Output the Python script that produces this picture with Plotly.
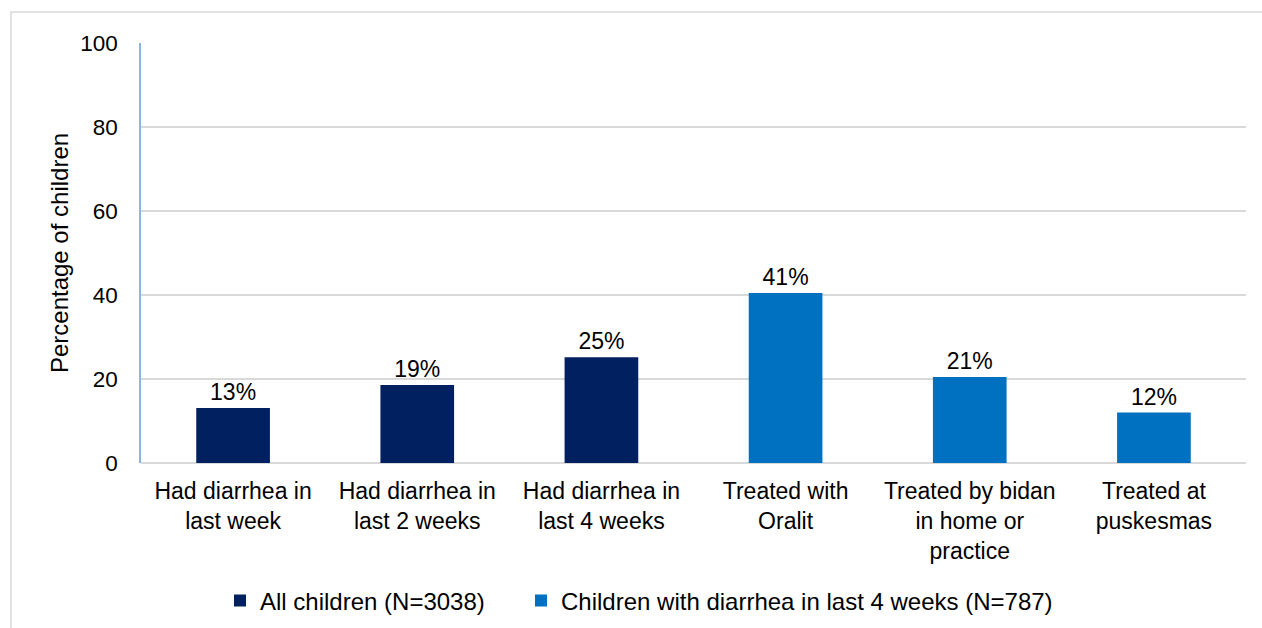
import plotly.graph_objects as go

# Survey results: share of children with diarrhea and how they were treated
all_children_cats = [
    "Had diarrhea in<br>last week",
    "Had diarrhea in<br>last 2 weeks",
    "Had diarrhea in<br>last 4 weeks",
]
all_children_vals = [13.1, 18.6, 25.2]

diarrhea_cats = [
    "Treated with<br>Oralit",
    "Treated by bidan<br>in home or<br>practice",
    "Treated at<br>puskesmas",
]
diarrhea_vals = [40.5, 20.5, 12.0]

series_names = [
    "All children (N=3038)",
    "Children with diarrhea in last 4 weeks (N=787)",
]
y_ticks = [0, 20, 40, 60, 80, 100]

NAVY = "#002060"
BLUE = "#0070C0"
FONT = "Liberation Sans, Arial, sans-serif"

W, H = 1262, 628
ML, MR, MT, MB = 141, 16, 43, 165
PW, PH = W - ML - MR, H - MT - MB


def px_to_paper_x(px):
    return (px - ML) / PW


def px_to_paper_y(py):
    return (H - MB - py) / PH


fig = go.Figure()
for cats, vals, name, color, leg in [
    (all_children_cats, all_children_vals, series_names[0], NAVY, "legend"),
    (diarrhea_cats, diarrhea_vals, series_names[1], BLUE, "legend2"),
]:
    fig.add_trace(
        go.Bar(
            x=cats,
            y=vals,
            name=name,
            legend=leg,
            marker=dict(color=color, line=dict(width=0)),
            width=0.4,
            texttemplate="%{y:.0f}%",
            textposition="outside",
            textfont=dict(family=FONT, size=23, color="#000000"),
            cliponaxis=False,
        )
    )

# light grey frame around the chart area
fig.add_shape(
    type="rect",
    xref="paper", yref="paper",
    x0=px_to_paper_x(11), x1=px_to_paper_x(1290),
    y0=px_to_paper_y(660), y1=px_to_paper_y(12),
    line=dict(color="#D9D9D9", width=1.5),
    fillcolor="rgba(0,0,0,0)",
    layer="below",
)

legend_style = dict(
    orientation="h",
    xanchor="left",
    y=px_to_paper_y(601),
    yanchor="middle",
    font=dict(family=FONT, size=24, color="#000000"),
    itemwidth=30,
    bgcolor="rgba(0,0,0,0)",
    borderwidth=0,
)

fig.update_layout(
    width=W,
    height=H,
    margin=dict(l=ML, r=MR, t=MT, b=MB, pad=0, autoexpand=False),
    paper_bgcolor="white",
    plot_bgcolor="white",
    barmode="overlay",
    font=dict(family=FONT, size=23, color="#000000"),
    showlegend=True,
    legend=dict(legend_style, x=px_to_paper_x(220)),
    legend2=dict(legend_style, x=px_to_paper_x(521)),
    xaxis=dict(
        type="category",
        categoryorder="array",
        categoryarray=all_children_cats + diarrhea_cats,
        showgrid=False,
        showline=False,
        zeroline=False,
        ticks="",
        automargin=False,
        tickfont=dict(family=FONT, size=23, color="#000000"),
        ticklabelstandoff=12,
    ),
    yaxis=dict(
        range=[0, 100],
        tickvals=y_ticks,
        showgrid=True,
        gridcolor="#D9D9D9",
        gridwidth=1.5,
        zeroline=True,
        zerolinecolor="#D9D9D9",
        zerolinewidth=1.5,
        showline=True,
        linecolor="#8DB3E2",
        linewidth=1.5,
        ticks="",
        automargin=False,
        tickfont=dict(family=FONT, size=22.5, color="#000000"),
        ticklabelstandoff=17,
        title=dict(
            text="Percentage of children",
            font=dict(family=FONT, size=24, color="#000000"),
            standoff=5,
        ),
    ),
)

fig.write_html("out.html")
